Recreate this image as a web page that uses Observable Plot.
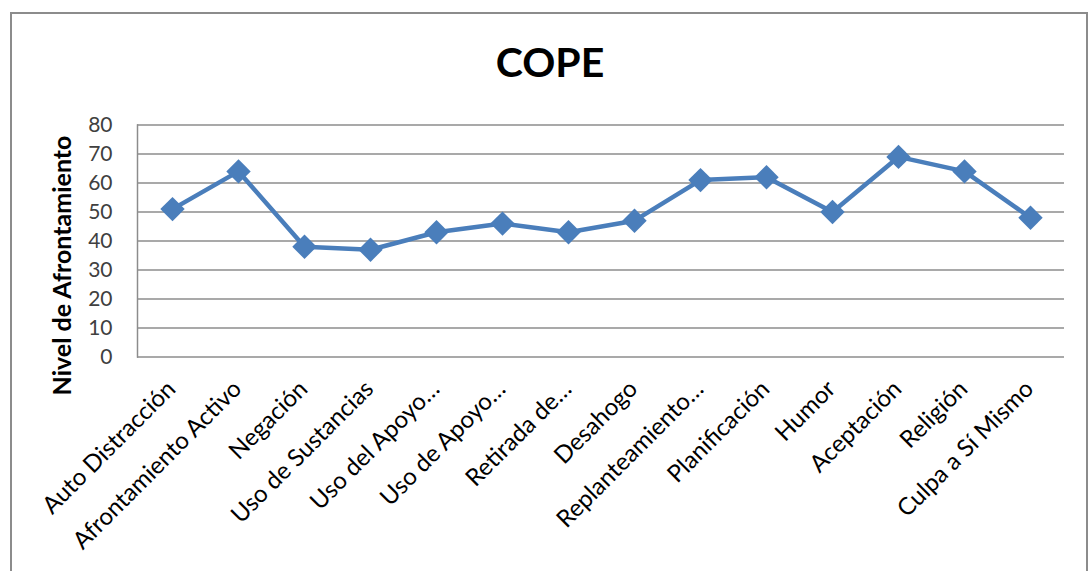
<!DOCTYPE html>
<html>
<head>
<meta charset="utf-8">
<script src="https://cdn.jsdelivr.net/npm/d3@7"></script>
<script src="https://cdn.jsdelivr.net/npm/@observablehq/plot@0.6"></script>
<style>
  html, body { margin: 0; padding: 0; background: #fff; overflow: hidden; }
  #wrap { position: relative; width: 1092px; height: 571px; }
  #frame { position: absolute; left: 10px; top: 12px; width: 1078px; height: 600px;
           border: 2px solid #8c8c8c; box-sizing: border-box; }
  #title { position: absolute; left: 0; width: 1100px; top: 37px; text-align: center;
           font: bold 41px Lato, "Liberation Sans", sans-serif; color: #000; }
  #chart { position: absolute; left: 0; top: 0; }
</style>
</head>
<body>
<div id="wrap">
  <div id="frame"></div>
  <div id="title">COPE</div>
  <div id="chart"></div>
</div>
<script>
// COPE coping-strategy scores
const categories = [
  "Auto Distracción", "Afrontamiento Activo", "Negación", "Uso de Sustancias",
  "Uso del Apoyo…", "Uso de Apoyo…", "Retirada de…", "Desahogo",
  "Replanteamiento…", "Planificación", "Humor", "Aceptación", "Religión",
  "Culpa a Sí Mismo"
];
const values = [51, 64, 38, 37, 43, 46, 43, 47, 61, 62, 50, 69, 64, 48];
const yTicks = [0, 10, 20, 30, 40, 50, 60, 70, 80];

const data = categories.map((c, i) => ({ category: c, value: values[i] }));
const blue = "#4a7ebb";

const chart = Plot.plot({
  width: 1092,
  height: 571,
  marginLeft: 137,
  marginRight: 28,
  marginTop: 124.5,
  marginBottom: 214.5,
  style: { fontFamily: "Lato, 'Liberation Sans', sans-serif", background: "transparent", overflow: "visible" },
  x: { type: "point", domain: categories, padding: 0.5, label: null },
  y: { domain: [0, 80], label: null },
  marks: [
    Plot.ruleY(yTicks, { stroke: "#8c8c8c", strokeWidth: 1.5 }),
    Plot.frame({ anchor: "left", stroke: "#8c8c8c", strokeWidth: 1.5 }),
    Plot.axisY(yTicks, { tickSize: 0, tickPadding: 25, fontSize: 21, color: "#404040", label: null }),
    Plot.axisX({ tickSize: 0, tickRotate: -45, tickPadding: 28, dx: -1, fontSize: 24, color: "#000", label: null }),
    Plot.text(["Nivel de Afrontamiento"], {
      frameAnchor: "left", textAnchor: "middle", rotate: -90, dx: -75, dy: 24.5,
      fontSize: 25, fontWeight: "bold", fill: "#000"
    }),
    Plot.line(data, { x: "category", y: "value", stroke: blue, strokeWidth: 4.5 }),
    Plot.dot(data, { x: "category", y: "value", symbol: "diamond2", r: 11, fill: blue, stroke: blue, strokeWidth: 0 })
  ]
});
document.getElementById("chart").appendChild(chart);
</script>
</body>
</html>
